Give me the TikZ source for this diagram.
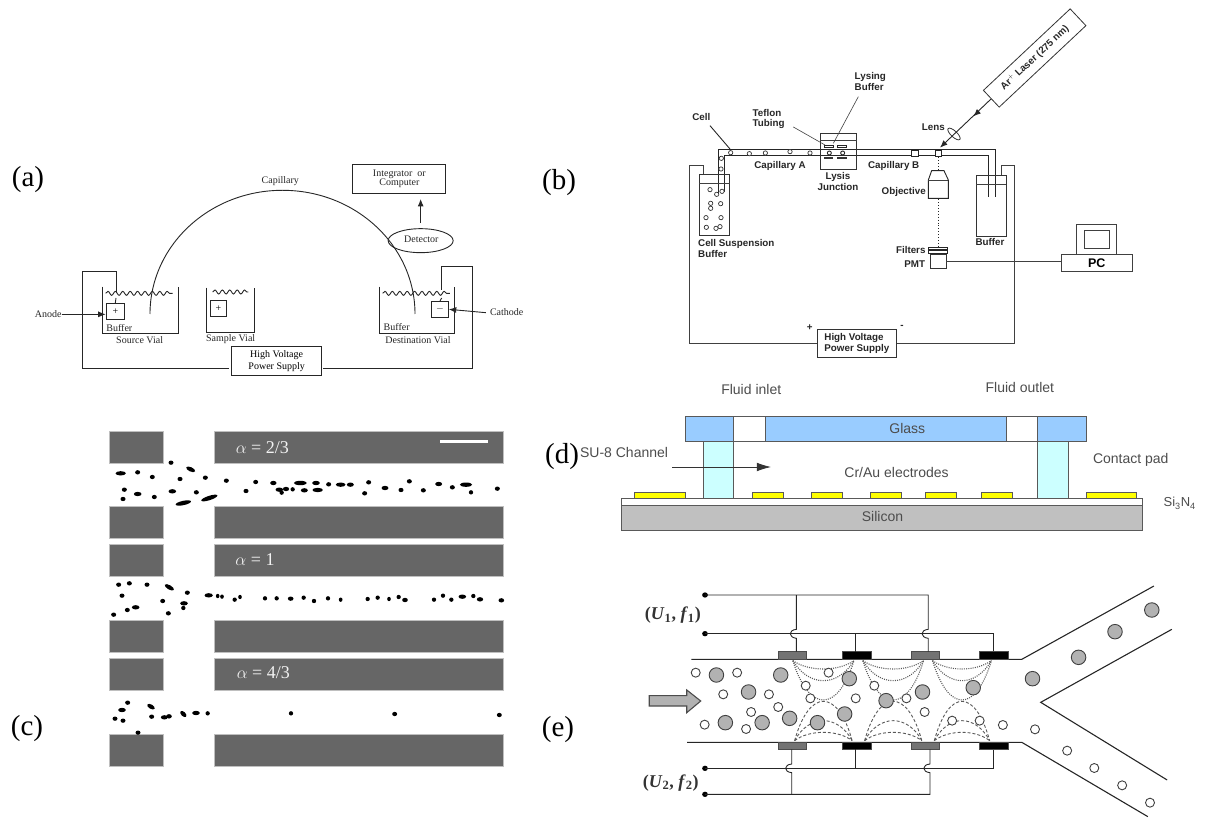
\documentclass[tikz,border=0pt]{standalone}
\usepackage{fontspec}
\setmainfont{Liberation Serif}
\setsansfont{Liberation Sans}
\usepackage{tikz}
\usetikzlibrary{arrows.meta,shapes.geometric,decorations.pathmorphing}

\definecolor{blockgray}{HTML}{666666}
\definecolor{glassblue}{HTML}{99CCFF}
\definecolor{pillarcyan}{HTML}{CCFFFF}
\definecolor{padyellow}{HTML}{FFFF00}
\definecolor{sigray}{HTML}{C0C0C0}

\begin{document}
\begin{tikzpicture}[
    x=1pt,y=-1pt,
    >={Latex[length=7.5pt,width=6pt]},
    every node/.style={inner sep=0pt,align=center},
    panel/.style n args={3}{shift={(#1pt,-#2pt)},x=#3pt,y=-0.33333pt},
    tag/.style={font=\fontsize{29}{29}\selectfont},
    serif/.style={font=\fontsize{10}{10}\selectfont,text=black!85},
    bold/.style={font=\sffamily\bfseries\fontsize{9.8}{10.6}\selectfont,text=black!85},
    arial/.style={font=\sffamily\fontsize{14}{14}\selectfont,text=black!70},
    wire/.style={line width=0.9pt,draw=black!85},
    thin wire/.style={line width=0.6pt,draw=black!75},
    wave/.style={wire,decorate,decoration={snake,amplitude=2pt,segment length=7.4pt}},
    wbox/.style={draw=black!85,line width=0.9pt,fill=white},
    block/.style={fill=blockgray,draw=black!25,line width=0.5pt},
    alphatext/.style={font=\fontsize{18}{18}\selectfont,text=black!5},
    outline/.style={draw=black!65,line width=0.8pt},
    big/.style={circle,draw=black!75,fill=black!30,line width=0.9pt,minimum size=14.5pt},
    small/.style={circle,draw=black!75,fill=white,line width=0.9pt,minimum size=9pt},
    electrode/.style={minimum width=28.6pt,minimum height=7.7pt},
    ufont/.style={font=\bfseries\fontsize{18}{18}\selectfont,text=black!80}]
  \useasboundingbox (0,0) rectangle (1210,818);

  \node[tag] (taga) at (28,180) {(a)};
  \node[tag] (tagb) at (559,183) {(b)};
  \node[tag] (tagc) at (27,729) {(c)};
  \node[tag] (tage) at (558,730) {(e)};

  % ---- (a) capillary electrophoresis ----
  \begin{scope}[panel={40}{130}{0.33333}]
    \node[wbox,minimum width=93pt,minimum height=29pt] (integrator) at (1078,147) {};
    \node[serif] (integratortext) at (1078,147) {Integrator\ \ or\\[-1pt]Computer};
    \node[wbox,ellipse,minimum width=65pt,minimum height=24pt,fill=none] (detector) at (1142,332) {};
    \node[serif] (detectortext) at (1144,329) {Detector};
    \draw[wire,->] ([yshift=5pt]detector.north) -- ([yshift=-5pt]detector.north |- integrator.south);
    \node[serif] (capillarytext) at (721,152) {Capillary};
    \draw[wire] (330,552) arc[start angle=180,end angle=0,x radius=132.5pt,y radius=123.7pt];

    % vials
    \draw[wire] (188,470) -- (188,609) -- (414,609) -- (414,470);
    \draw[wire] (498,473) -- (498,607) -- (642,607) -- (642,473);
    \draw[wire] (1017,470) -- (1017,609) -- (1242,609) -- (1242,470);
    \draw[wave] (197,490) -- (398,490);
    \draw[wave] (518,486) -- (625,486);
    \draw[wave] (1028,490) -- (1230,490);
    \node[wbox,minimum width=17.3pt,minimum height=16pt] (anode) at (226,544) {+};
    \node[wbox,minimum width=16pt,minimum height=15.7pt] (sample) at (535,536) {+};
    \node[wbox,minimum width=16.7pt,minimum height=15.7pt] (cathode) at (1200,538) {$-$};
    \node[serif,anchor=east] (anodetext) at (65,553) {Anode};
    \node[serif] (cathodetext) at (1400,545) {Cathode};
    \draw[wire,->] (anodetext.east) -- ++(44pt,0);
    \draw[wire,->] (cathodetext.west) ++(-4pt,-1pt) -- (cathode.east);
    \node[serif] (buffersource) at (238,595) {Buffer};
    \node[serif] (bufferdest) at (1070,590) {Buffer};
    \node[serif] (sourcetext) at (299,630) {Source Vial};
    \node[serif] (sampletext) at (572,628) {Sample Vial};
    \node[serif] (desttext) at (1134,630) {Destination Vial};

    % power supply wires
    \node[wbox,minimum width=90pt,minimum height=28.3pt] (supplya) at (710,693) {High Voltage\\[0pt]Power Supply};
    \coordinate (anodelead) at (228,490);
    \coordinate (cathodelead) at (1205,480);
    \draw[wire] (supplya.west) ++(-2pt,-7pt) -| (128,425) -| (anodelead);
    \draw[wire] (supplya.east) ++(1pt,-7pt) -| (1297,410) -| (cathodelead);
    \draw[wire] (228,504) -- (anode.north);
    \draw[wire] (1205,504) -- (cathode.north);
  \end{scope}

  % ---- (b) laser induced fluorescence setup ----
  \begin{scope}[panel={640}{0}{0.33333}]
    \node[draw=black!80,line width=0.8pt,rotate=43.2,minimum width=119pt,minimum height=23pt,bold] (laser) at (1184,174) {Ar$^{+}$ Laser (275 nm)};
    \node[draw=black!80,ellipse,line width=0.8pt,rotate=-43,minimum width=16pt,minimum height=6pt] (lens) at (942,402) {};
    \coordinate (focus) at (900,443);
    \draw[wire,->] (laser.west) -- (focus);
    \draw[wire,<-] (1000,349) -- (1012,338);
    \node[bold] (lenstext) at (880,381) {Lens};

    % capillary
    \draw[wire] (236,578) -- (236,449) -- (1065,449) -- (1065,592);
    \draw[wire] (252,575) -- (252,467) -- (1045,467) -- (1045,592);
    \foreach \x/\y in {272/458,328/461,376/459,450/455,510/459,244/475,243/507,
        210/569,230/583,246/574,212/610,242/611,212/625,198/653,243/653,199/682,228/685,240/680}
      \draw[line width=0.7pt,draw=black!80,fill=white] (\x,\y) circle[radius=6.5];
    \foreach \x in {825,895}
      \draw[wire,fill=white] (\x-10,450) rectangle (\x+10,469);

    % vials
    \node[draw=black!80,line width=0.8pt,minimum width=29.7pt,minimum height=61pt] (cellvial) at (223.5,613.5) {};
    \draw[thin wire] (cellvial.west |- 0,550) -- (cellvial.east |- 0,550);
    \node[draw=black!80,line width=0.8pt,minimum width=29.3pt,minimum height=61pt] (buffervial) at (1054,616.5) {};
    \draw[thin wire] (buffervial.west |- 0,552) -- (buffervial.east |- 0,552);

    % lysis junction
    \node[draw=black!80,line width=0.8pt,minimum width=36pt,minimum height=36.3pt] (lysis) at (595,453.5) {};
    \draw[thin wire] (lysis.west |- 0,420) -- (lysis.east |- 0,420);
    \foreach \x in {566,606}{
      \draw[wire,fill=white] (\x-13,437) rectangle (\x+13,443);
      \fill[black!80] (\x-14,470) rectangle (\x+14,477);
      \draw[wire,fill=white] (\x+2,459) circle[radius=6];
    }
    \node[bold] (lysistext) at (594,544) {Lysis\\Junction};
    \node[bold,align=left] (lysingtext) at (691,244) {Lysing\\Buffer};
    \node[bold,align=left] (teflontext) at (386,357) {Teflon\\Tubing};
    \node[bold] (celltext) at (184,352) {Cell};
    \draw[thin wire] (655,290) -- (580,430);
    \draw[thin wire] (460,381) -- (555,435);
    \draw[wire] (210,377) -- (270,447);
    \node[bold] (capa) at (420,497) {Capillary A};
    \node[bold] (capb) at (761,497) {Capillary B};

    % detection path
    \draw[wire,fill=white] (865,595) -- (865,540) -- (875,512) -- (912,512) -- (925,540) -- (925,595) -- cycle;
    \draw[thin wire] (865,540) -- (925,540);
    \node[bold,anchor=east] (objectivetext) at (858,576) {Objective};
    \draw[wire,dotted,line width=1pt] (895,472) -- (895,510);
    \draw[wire,dotted,line width=1pt] (895,598) -- (895,740);
    \draw[wire,fill=white] (865,742) rectangle (922,748);
    \draw[wire,fill=white] (865,751) rectangle (922,760);
    \node[wbox,draw=black!80,minimum width=16pt,minimum height=14.3pt] (pmt) at (894,783.5) {};
    \node[bold,anchor=east] (filterstext) at (857,750) {Filters};
    \node[bold,anchor=east] (pmttext) at (856,792) {PMT};
    \node[bold] (buffertext) at (1050,726) {Buffer};
    \node[bold,align=left] (suspensiontext) at (289,746) {Cell Suspension\\Buffer};

    % PC
    \node[wbox,draw=black!75,minimum width=39.3pt,minimum height=30.3pt] (monitor) at (1369,717.5) {};
    \node[wbox,draw=black!75,minimum width=24.7pt,minimum height=17.7pt] (screen) at (1370,718.5) {};
    \node[wbox,draw=black!75,minimum width=71.7pt,minimum height=17.3pt,font=\sffamily\bfseries\fontsize{12.5}{12.5}\selectfont] (pc) at (1370.5,789) {PC};
    \draw[thin wire] (pmt.east) -- (pmt.east -| pc.west);

    % supply
    \node[wbox,draw=black!80,minimum width=79.7pt,minimum height=28pt,bold,align=left] (supplyb) at (650.5,1030) {High Voltage\\Power Supply};
    \draw[thin wire] (supplyb.west) -| (149,495) -- (190,495) -- (190,522);
    \draw[thin wire] (supplyb.east) -| (1122,495) -- (1085,495) -- (1085,525);
    \node[bold] (plus) at (509,984) {+};
    \node[bold] (minus) at (786,981) {-};
  \end{scope}

  % ---- (c) particle streams ----
  \begin{scope}
    \foreach \ya/\yb in {431.7/463,506.7/538.7,544.3/576.3,620/652.3,658.3/690.3,734/766.3}{
      \draw[block] (109.3,\ya) rectangle (163.3,\yb);
      \draw[block] (214.7,\ya) rectangle (503.3,\yb);
    }
    \fill[white] (440,440) rectangle (487.7,442.6);
    \node[alphatext] (alphaa) at (262.3,447.7) {$\alpha$ = 2/3};
    \node[alphatext] (alphab) at (255,560) {$\alpha$ = 1};
    \node[alphatext] (alphac) at (263.3,672.7) {$\alpha$ = 4/3};
  \end{scope}
  \begin{scope}[panel={100}{420}{0.33333}]
    \foreach \x/\y/\w/\a in {62/160/14/0,113/157/6/0,157/171/6/0,213/128/6/0,272/148/13/-25,240/177/6/0,
        316/173/6/0,379/182/6/0,73/209/6/0,113/222/10/0,163/231/6/0,69/237/6/0,217/214/10/0,289/217/6/0,
        250/249/22/12,328/234/24/18,438/213/6/0,467/186/6/0,520/189/8/0,538/209/10/0,545/218/5/0,558/207/8/0,
        578/208/5/0,601/189/18/0,613/211/9/0,648/189/10/0,653/210/14/0,686/193/6/0,722/194/13/0,751/194/9/0,
        806/187/6/0,794/220/6/0,855/204/9/0,903/210/6/0,928/184/6/0,970/211/6/0,1016/192/9/0,1057/202/6/0,
        1098/194/17/0,1113/217/5/0,1192/206/6/0,
        56/494/6/0,88/490/6/0,141/494/6/0,208/502/14/-30,66/527/6/0,262/518/6/0,188/543/6/0,252/550/10/0,
        250/564/5/0,107/562/10/0,82/570/6/0,41/584/6/0,205/580/6/0,326/526/11/0,353/528/4/0,366/530/4/0,
        404/539/5/0,420/531/4/0,495/535/5/0,530/535/5/0,572/536/7/0,611/533/5/0,642/543/5/0,684/535/5/0,
        722/539/4/0,803/537/5/0,833/533/5/0,867/537/4/0,896/531/5/0,915/540/7/0,1002/539/5/0,1029/527/5/0,
        1054/539/5/0,1087/530/10/0,1120/528/5/0,1140/538/8/0,1204/541/7/0,
        83/848/6/0,66/870/10/0,45/896/6/0,69/902/6/0,153/860/11/-30,155/890/6/0,193/892/9/0,207/889/7/0,
        250/882/10/-45,288/879/10/0,323/880/5/0,573/880/5/0,884/882/6/0,1198/885/6/0,114/938/6/0}
      \fill[black,rotate around={\a:(\x,\y)}] (\x,\y) ellipse[x radius=\w+1.5,y radius=6.5];
  \end{scope}

  % ---- (d) chip cross section ----
  \begin{scope}[panel={640}{370}{0.3444}]
    \fill[sigray] (-53,405) rectangle (1460,480);
    \draw[outline] (-53,386) rectangle (1460,405);
    \draw[outline] (-53,405) rectangle (1460,480);
    \foreach \xa/\xb in {-15/131,327/417,498/588,669/759,829/919,991/1082,1297/1440}
      \draw[outline,fill=padyellow] (\xa,367) rectangle (\xb,386);
    \draw[outline,fill=glassblue] (131,140) rectangle (1297,215);
    \draw[outline,fill=white] (272,140) rectangle (364,215);
    \draw[outline,fill=white] (1065,140) rectangle (1153,215);
    \draw[outline,fill=pillarcyan] (183,215) rectangle (272,386);
    \draw[outline,fill=pillarcyan] (1153,215) rectangle (1245,386);
    \node[arial] (glasstext) at (776,175) {Glass};
    \node[arial] (silicontext) at (704,440) {Silicon};
    \node[arial] (inlettext) at (323,57) {Fluid inlet};
    \node[arial] (outlettext) at (1103,53) {Fluid outlet};
    \node[arial] (electrodestext) at (745,308) {Cr/Au electrodes};
    \node[arial] (padtext) at (1425,270) {Contact pad};
    \node[arial,anchor=east] (channeltext) at (82,248) {SU-8 Channel};
    \node[arial,font=\sffamily\fontsize{13}{13}\selectfont] (nitridetext) at (1567,400) {Si\textsubscript{3}N\textsubscript{4}};
    \coordinate (flowtip) at (380,291);
    \draw[line width=0.7pt,draw=black!80,-{Latex[length=14pt,width=8.6pt]}] (93,291) -- (flowtip);
  \end{scope}
  \node[tag] (tagd) at (562,457) {(d)};

  % ---- (e) dielectrophoretic sorter ----
  \begin{scope}[panel={620}{570}{0.35714}]
    % channel walls
    \draw[wire,line width=1.1pt] (200,268) -- (1125,268) -- (1495,48);
    \draw[wire,line width=1.1pt] (188,517) -- (1125,517) -- (1478,740);
    \draw[wire,line width=1.1pt] (1545,178) -- (1178,397) -- (1532,630);

    % field lines
    \foreach \xa/\xb in {484/655,680/850,875/1040}
      \foreach \d in {25,60,118}{
        \draw[line width=1.1pt,black!65,dash pattern=on 1pt off 1.2pt] (\xa,272) .. controls (\xa+45,{272+\d*4/3}) and (\xb-45,{272+\d*4/3}) .. (\xb,272);
        \draw[line width=0.9pt,black!65,dash pattern=on 3pt off 2pt] (\xa+5,512) .. controls (\xa+45,{512-\d*4/3}) and (\xb-45,{512-\d*4/3}) .. (\xb-5,512);
      }

    % particles
    \foreach \x/\y [count=\i] in {270/315,450/315,360/366,295/458,398/458,475/445,553/458,642/326,629/432,745/392,847/366,989/353,1155/326,1284/262,1386/185,1489/120}
      \node[big] (g\i) at (\x,\y) {};
    \foreach \x/\y [count=\i] in {212/308,328/308,289/373,417/373,443/411,367/426,237/464,353/477,520/347,533/385,584/308,660/385,712/347,802/385,853/426,930/452,1007/452,1072/465,1162/478,1252/542,1328/594,1406/646,1484/698}
      \node[small] (w\i) at (\x,\y) {};

    % electrodes
    \foreach \x/\c/\n in {482/black!55/a,662/black/b,855/black!55/c,1047/black/d}{
      \node[electrode,fill=\c,draw=black!70] (top\n) at (\x,256) {};
      \node[electrode,fill=\c,draw=black!70] (bot\n) at (\x,527) {};
    }

    % terminals
    \foreach \y/\n in {75/ta,191/tb,595/tc,673/td}
      \fill (238,\y) circle[radius=8] coordinate (\n);

    % top wiring
    \draw[wire] (ta) -- (863,75) -- (863,178) .. controls (840,180) and (840,202) .. (863,205) -- (863,245);
    \draw[wire] (494,75) -- (494,178) .. controls (471,180) and (471,202) .. (494,205) -- (494,245);
    \draw[wire] (tb) -- (1047,191) -- (topd.north);
    \draw[wire] (660,191) -- (660,245);

    % bottom wiring
    \draw[wire] (td) -- (868,673) -- (868,608) .. controls (845,606) and (845,584) .. (868,582) -- (868,538);
    \draw[wire] (481,673) -- (481,608) .. controls (458,606) and (458,584) .. (481,582) -- (481,538);
    \draw[wire] (tc) -- (1047,595) -- (botd.south);
    \draw[wire] (660,595) -- (660,538);

    % inlet arrow
    \draw[line width=1.1pt,draw=black!70,fill=black!30] (82,377) -- (187,377) -- (187,360) -- (226,393) -- (187,428) -- (187,408) -- (82,408) -- cycle;

    \node[ufont] (uone) at (148,135) {(\textit{U}\textsubscript{1}, \textit{f}\textsubscript{1})};
    \node[ufont] (utwo) at (142,638) {(\textit{U}\textsubscript{2}, \textit{f}\textsubscript{2})};
  \end{scope}
\end{tikzpicture}
\end{document}
